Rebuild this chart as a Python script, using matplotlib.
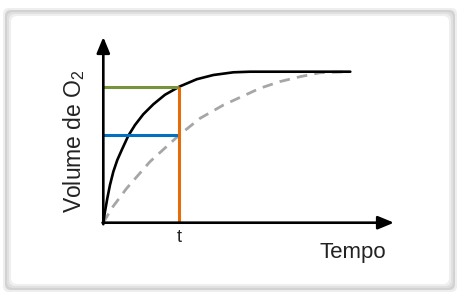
import matplotlib
matplotlib.use("Agg")
import matplotlib.pyplot as plt
from matplotlib.patches import FancyBboxPatch

plt.rcParams['font.family'] = ['Liberation Sans', 'DejaVu Sans']
plt.rcParams['mathtext.fontset'] = 'custom'
plt.rcParams['mathtext.rm'] = 'Liberation Sans'
plt.rcParams['mathtext.default'] = 'regular'

# ---- data (time in units of t, volume relative to plateau) ----
fast_time = [0, 0.022, 0.053, 0.088, 0.132, 0.184, 0.242, 0.329, 0.417, 0.526,
             0.658, 0.811, 1.0, 1.229, 1.447, 1.711, 1.93, 2.32, 3.25]
fast_volume = [0, 0.073, 0.162, 0.250, 0.338, 0.415, 0.481, 0.576, 0.647, 0.718,
               0.784, 0.847, 0.901, 0.950, 0.978, 0.996, 1.0, 1.0, 1.0]

slow_time = [0, 0.11, 0.308, 0.614, 1.0, 1.272, 1.579, 1.887, 2.06, 2.32, 2.59, 2.85, 3.23]
slow_volume = [0, 0.095, 0.228, 0.404, 0.581, 0.691, 0.779, 0.850, 0.890, 0.934, 0.967, 0.993, 1.0]

t_mark = 1.0
level_fast = 0.901
level_slow = 0.579
x_label = "Tempo"
y_label = "Volume de O$_2$"
t_label = "t"

W, H = 464, 299
fig = plt.figure(figsize=(W / 100, H / 100), dpi=100)

# background frame in pixel coordinates
bg = fig.add_axes([0, 0, 1, 1])
bg.set_xlim(0, W)
bg.set_ylim(H, 0)
bg.axis('off')
layers = [(3, 8, 457, 292, '#eeeeee'), (5, 10, 455, 290, '#d2d2d2'),
          (7, 12, 453, 288, '#e0e0e0'), (9, 14, 451, 286, '#efefef'),
          (11, 16, 449, 284, '#ffffff')]
for x0, y0, x1, y1, c in layers:
    bg.add_patch(FancyBboxPatch((x0 + 6, y0 + 6), (x1 - x0) - 12, (y1 - y0) - 12,
                                boxstyle="round,pad=6", fc=c, ec='none'))

# main axes mapped so that the data sits where it does in the picture
ox, oy, sx, sy = 103.3, 222.7, 76.0, 151.0
ax = fig.add_axes([0, 0, 1, 1])
ax.patch.set_alpha(0)
ax.set_xlim(-ox / sx, (W - ox) / sx)
ax.set_ylim((oy - H) / sy, oy / sy)
ax.axis('off')

ax.plot(slow_time, slow_volume, color='#a6a6a6', lw=2.0, dashes=(3.8, 2.6),
        solid_capstyle='butt')
ax.plot(fast_time, fast_volume, color='black', lw=1.9, solid_capstyle='round',
        solid_joinstyle='round')

ax.plot([0, t_mark], [level_fast, level_fast], color='#77933c', lw=2.2, solid_capstyle='butt')
ax.plot([0, t_mark], [level_slow, level_slow], color='#0070c0', lw=2.2, solid_capstyle='butt')
ax.plot([t_mark, t_mark], [0, level_fast], color='#e46c0a', lw=2.2, solid_capstyle='butt')

x_end = (394 - ox) / sx
y_end = (oy - 37) / sy
arrow = dict(arrowstyle='-|>,head_length=0.8,head_width=0.33', color='black', lw=1.9,
             shrinkA=0, shrinkB=0, mutation_scale=12)
ax.annotate('', xy=(x_end, 0), xytext=(-0.01, 0), arrowprops=arrow)
ax.annotate('', xy=(0, y_end), xytext=(0, -0.01), arrowprops=arrow)

ax.text((319 - ox) / sx, (oy - 258) / sy, x_label, fontsize=16, color='#222222',
        ha='left', va='baseline')
ax.text(t_mark, (oy - 242) / sy, t_label, fontsize=13, color='#222222',
        ha='center', va='baseline')
ax.text((74 - ox) / sx, (oy - 141.5) / sy, y_label, fontsize=16.5, color='#222222',
        ha='center', va='center', rotation=90)

fig.savefig('out.png', dpi=100)
